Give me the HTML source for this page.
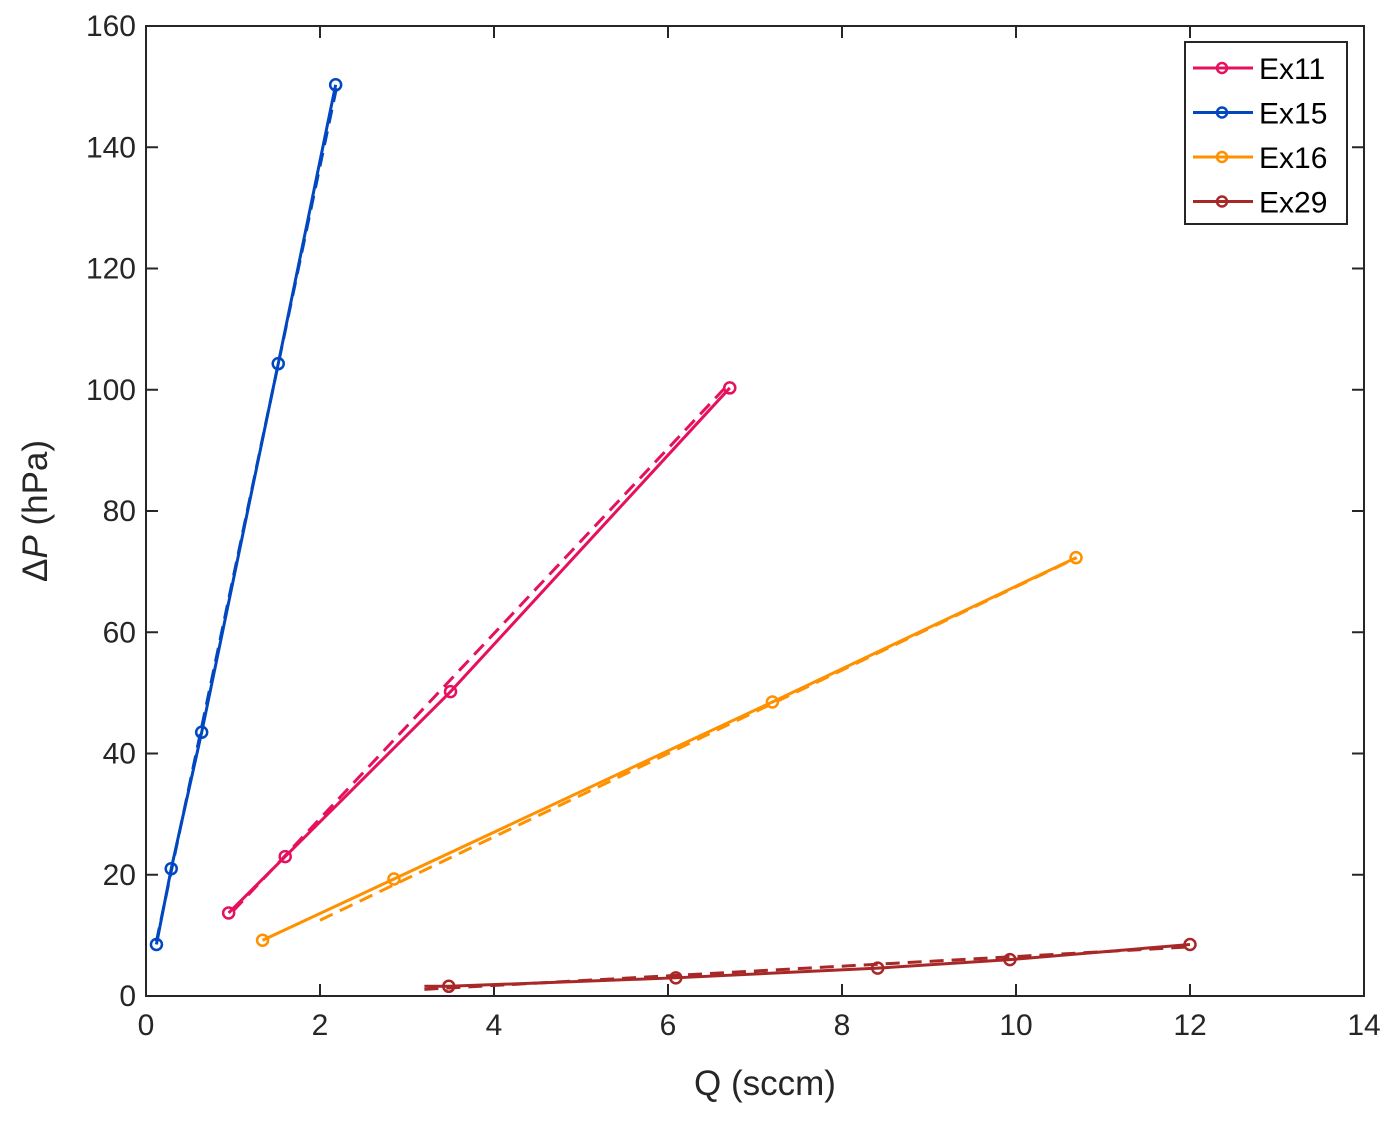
<!DOCTYPE html>
<html><head><meta charset="utf-8"><style>
body{margin:0;background:#fff;}
svg text{font-family:"Liberation Sans",sans-serif;}
</style></head><body>
<svg id="chart" width="1397" height="1116" xmlns="http://www.w3.org/2000/svg">
<rect width="1397" height="1116" fill="#fff"/>
<g id="plot"></g>
</svg>
<script>
const seriesNames = ["Ex11","Ex15","Ex16","Ex29"];
const seriesColors = ["#e6115e","#0047c0","#ff9000","#a82828"];
const ex11X = [0.95,1.6,3.5,6.71];
const ex11Y = [13.7,23,50.2,100.3];
const ex15X = [0.12,0.29,0.64,1.52,2.18];
const ex15Y = [8.5,21,43.5,104.3,150.3];
const ex16X = [1.34,2.85,7.2,10.69];
const ex16Y = [9.2,19.3,48.5,72.3];
const ex29X = [3.48,6.09,8.41,9.93,12.0];
const ex29Y = [1.6,3,4.6,6,8.5];
const ex29LineStart = [3.2,1.6];
const fitX = [[1.0,6.7],[0.12,2.2],[2.0,10.7],[3.2,12.0]];
const fitY = [[14,101],[9,150.5],[12.5,72.3],[1.1,8.1]];
const xTicks = [0,2,4,6,8,10,12,14];
const yTicks = [0,20,40,60,80,100,120,140,160];

const L=146,R=1364,T=26,B=996;
const sx=v=>L+(v-0)/(14-0)*(R-L);
const sy=v=>B-(v-0)/(160-0)*(B-T);
const NS="http://www.w3.org/2000/svg";
const g=document.getElementById('plot');
function mk(tag,attrs,parent){const e=document.createElementNS(NS,tag);for(const k in attrs)e.setAttribute(k,attrs[k]);(parent||g).appendChild(e);return e;}

const box=mk('rect',{x:L,y:T,width:R-L,height:B-T,fill:'none',stroke:'#262626','stroke-width':2});


xTicks.forEach(t=>{
  const x=sx(t);
  mk('line',{x1:x,x2:x,y1:B,y2:B-12,stroke:'#262626','stroke-width':2});
  mk('line',{x1:x,x2:x,y1:T,y2:T+12,stroke:'#262626','stroke-width':2});
  const tx=mk('text',{x:x,y:B+39,'text-anchor':'middle','font-size':30,fill:'#262626'});
  tx.textContent=t;
  
  
});
yTicks.forEach(t=>{
  const y=sy(t);
  mk('line',{x1:L,x2:L+12,y1:y,y2:y,stroke:'#262626','stroke-width':2});
  mk('line',{x1:R,x2:R-12,y1:y,y2:y,stroke:'#262626','stroke-width':2});
  const tx=mk('text',{x:L-10,y:y+10,'text-anchor':'end','font-size':30,fill:'#262626'});
  tx.textContent=t;
  
  
});
const xt=mk('text',{x:765,y:1095,'text-anchor':'middle','font-size':35,fill:'#262626','font-family':'Liberation Serif, serif'});
xt.textContent='Q (sccm)';


const yt=mk('text',{x:0,y:0,'text-anchor':'middle','font-size':35,fill:'#262626','font-family':'Liberation Serif, serif',transform:'translate(47,511) rotate(-90)'});
yt.innerHTML='Δ<tspan font-style="italic">P</tspan> (hPa)';



const xs=[ex11X,ex15X,ex16X,ex29X], ys=[ex11Y,ex15Y,ex16Y,ex29Y];
xs.forEach((X,i)=>{
  const c=seriesColors[i];
  const fl=mk('line',{x1:sx(fitX[i][0]),y1:sy(fitY[i][0]),x2:sx(fitX[i][1]),y2:sy(fitY[i][1]),stroke:c,'stroke-width':3,'stroke-dasharray':'14,8'});
  
  
  let pts=X.map((x,j)=>sx(x)+','+sy(ys[i][j]));
  if(i===3) pts.unshift(sx(ex29LineStart[0])+','+sy(ex29LineStart[1]));
  const pl=mk('polyline',{points:pts.join(' '),fill:'none',stroke:c,'stroke-width':3});
  
  
  X.forEach((x,j)=>{
    const m=mk('circle',{cx:sx(x),cy:sy(ys[i][j]),r:5.5,fill:'none',stroke:c,'stroke-width':2.5});
    
    
  });
});

const lg=mk('g',{});


mk('rect',{x:1185,y:42,width:162,height:182,fill:'#fff',stroke:'#262626','stroke-width':2},lg);
seriesNames.forEach((n,i)=>{
  const y=68+i*44.5;
  const e=mk('g',{},lg);
  
  
  mk('line',{x1:1193,x2:1253,y1:y,y2:y,stroke:seriesColors[i],'stroke-width':3},e);
  mk('circle',{cx:1222,cy:y,r:5,fill:'none',stroke:seriesColors[i],'stroke-width':2.5},e);
  const t=mk('text',{x:1259,y:y+11,'font-size':30,fill:'#000'},e);
  t.textContent=n;
});
</script>
</body></html>
